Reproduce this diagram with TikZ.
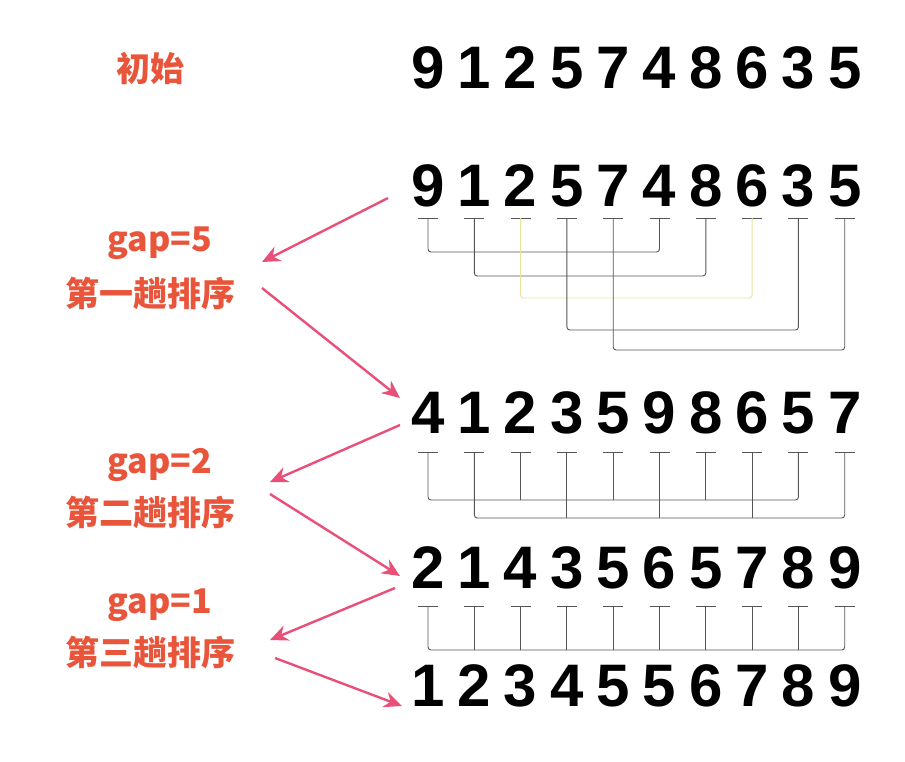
\documentclass[tikz,border=0pt]{standalone}
\usepackage{fontspec}
\setmainfont{Liberation Sans}
\newfontfamily\cjk{Noto Sans CJK SC}
\usetikzlibrary{arrows.meta}
\definecolor{pk}{HTML}{E8507A}
\definecolor{lab}{HTML}{E8553A}
\definecolor{ln}{HTML}{555555}
\definecolor{yl}{HTML}{E8E29A}
\tikzset{
 dg/.style={font=\fontsize{60}{60}\selectfont\bfseries, inner sep=0pt, anchor=center},
 lb/.style={font=\cjk\fontsize{34}{34}\selectfont\bfseries, text=lab, inner sep=0pt},
 arr/.style={pk, line width=2.4pt, -{Stealth[length=18pt,width=16pt]}},
 br/.style={ln, line width=0.9pt, rounded corners=3pt},
 tk/.style={ln, line width=0.9pt}
}
\begin{document}
\begin{tikzpicture}[x=1pt,y=-1pt]
\useasboundingbox (0,0) rectangle (905,761);
\def\rowdigits#1#2#3{%
 \foreach \d [count=\i from 0] in {#2}{
   \node[dg] (#1\i) at ({428+46.3*\i},#3) {\d};
 }}
\rowdigits{a}{9,1,2,5,7,4,8,6,3,5}{68}
\rowdigits{b}{9,1,2,5,7,4,8,6,3,5}{186}
\rowdigits{c}{4,1,2,3,5,9,8,6,5,7}{413}
\rowdigits{d}{2,1,4,3,5,6,5,7,8,9}{568}
\rowdigits{e}{1,2,3,4,5,5,6,7,8,9}{686}
% ticks
\foreach \r/\o in {b/32,c/39,d/38}{
 \foreach \i in {0,...,9}{
  \draw[tk] ([xshift=-10pt,yshift=-\o pt]\r\i.center) -- ([xshift=10pt,yshift=-\o pt]\r\i.center);
 }}
% gap=5 brackets
\foreach \a/\b/\y/\c in {0/5/252/ln,1/6/276/ln,2/7/298/yl,3/8/330/ln,4/9/350/ln}{
 \draw[br,\c] ([yshift=-32pt]b\a.center) -- ([yshift=-\y pt+186pt]b\a.center) -| ([yshift=-32pt]b\b.center);
}
% gap=2 brackets
\draw[br] ([yshift=-39pt]c0.center) -- ([yshift=-87pt]c0.center) -| ([yshift=-39pt]c8.center);
\foreach \i in {2,4,6}{\draw[tk] ([yshift=-39pt]c\i.center) -- ([yshift=-87pt]c\i.center);}
\draw[br] ([yshift=-39pt]c1.center) -- ([yshift=-105pt]c1.center) -| ([yshift=-39pt]c9.center);
\foreach \i in {3,5,7}{\draw[tk] ([yshift=-39pt]c\i.center) -- ([yshift=-105pt]c\i.center);}
% gap=1 bracket
\draw[br] ([yshift=-38pt]d0.center) -- ([yshift=-82pt]d0.center) -| ([yshift=-38pt]d9.center);
\foreach \i in {1,...,8}{\draw[tk] ([yshift=-38pt]d\i.center) -- ([yshift=-82pt]d\i.center);}
% labels
\node[lb] (l0) at (150,68) {初始};
\node[lb] (g1) at (160,243) {gap=5};
\node[lb] (p1) at (150,293) {第一趟排序};
\node[lb] (g2) at (160,465) {gap=2};
\node[lb] (p2) at (150,512) {第二趟排序};
\node[lb] (g3) at (160,605) {gap=1};
\node[lb] (p3) at (150,652) {第三趟排序};
% arrows
\coordinate (s1) at (388,198); \coordinate (t1) at (262,262);
\coordinate (s2) at (262,288); \coordinate (t2) at (400,398);
\coordinate (s3) at (400,425); \coordinate (t3) at (270,482);
\coordinate (s4) at (270,494); \coordinate (t4) at (400,576);
\coordinate (s5) at (395,588); \coordinate (t5) at (270,640);
\coordinate (s6) at (275,658); \coordinate (t6) at (402,706);
\foreach \k in {1,...,6}{\draw[arr] (s\k) -- (t\k);}
\end{tikzpicture}
\end{document}
